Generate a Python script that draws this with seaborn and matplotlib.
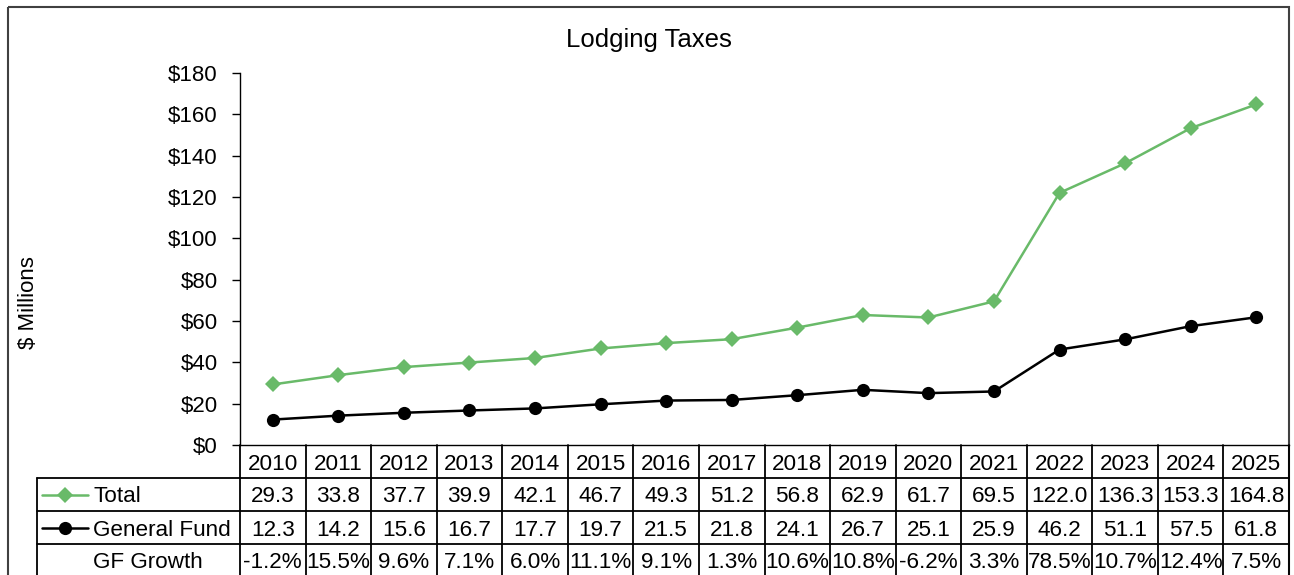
import matplotlib
matplotlib.use("Agg")
import matplotlib.pyplot as plt
import seaborn as sns
import pandas as pd
from matplotlib.lines import Line2D
from matplotlib.patches import Rectangle

years = [2010, 2011, 2012, 2013, 2014, 2015, 2016, 2017, 2018, 2019, 2020, 2021, 2022, 2023, 2024, 2025]
total = [29.3, 33.8, 37.7, 39.9, 42.1, 46.7, 49.3, 51.2, 56.8, 62.9, 61.7, 69.5, 122.0, 136.3, 153.3, 164.8]
general_fund = [12.3, 14.2, 15.6, 16.7, 17.7, 19.7, 21.5, 21.8, 24.1, 26.7, 25.1, 25.9, 46.2, 51.1, 57.5, 61.8]
gf_growth = ["-1.2%", "15.5%", "9.6%", "7.1%", "6.0%", "11.1%", "9.1%", "1.3%", "10.6%", "10.8%",
             "-6.2%", "3.3%", "78.5%", "10.7%", "12.4%", "7.5%"]
yticks = [0, 20, 40, 60, 80, 100, 120, 140, 160, 180]

GREEN = "#69BA69"
W, H = 1294, 575

sns.set_theme(style="white")
plt.rcParams["font.family"] = ["Liberation Sans", "DejaVu Sans"]

fig = plt.figure(figsize=(W / 100, H / 100), dpi=100)

# outer frame
frame = fig.add_axes([0, 0, 1, 1], zorder=0)
frame.set_xlim(0, W)
frame.set_ylim(H, 0)
frame.axis("off")
frame.add_patch(Rectangle((8, 7), 1281, 600, fill=False, edgecolor="#404040", lw=1.5, clip_on=False))

x_left, x_right = 240, 1289
y_top, y_bot = 73, 445
ax = fig.add_axes([x_left / W, (H - y_bot) / H, (x_right - x_left) / W, (y_bot - y_top) / H], zorder=2)
ax.patch.set_alpha(0)

df = pd.DataFrame({
    "idx": list(range(len(years))) * 2,
    "value": total + general_fund,
    "series": ["Total"] * len(years) + ["General Fund"] * len(years),
})
sns.lineplot(data=df, x="idx", y="value", hue="series", style="series",
             palette={"Total": GREEN, "General Fund": "black"},
             markers={"Total": "D", "General Fund": "o"}, dashes=False,
             linewidth=1.8, markersize=8, markeredgewidth=0, legend=False, ax=ax)
for l in ax.lines:
    if l.get_marker() == "o":
        l.set_markersize(9.5)

ax.set_xlim(-0.5, len(years) - 0.5)
ax.set_ylim(0, 180)
ax.set_yticks(yticks)
ax.set_yticklabels([f"${v}" for v in yticks], fontsize=16)
ax.set_xticks([])
ax.set_xlabel("")
ax.set_ylabel("")
for s in ["top", "right"]:
    ax.spines[s].set_visible(False)
for s in ["left", "bottom"]:
    ax.spines[s].set_color("black")
    ax.spines[s].set_linewidth(1.0)
ax.tick_params(axis="y", which="both", left=True, length=6, width=1, color="black", pad=10, labelcolor="black")

fig.text(649 / W, 1 - 40 / H, "Lodging Taxes", ha="center", va="center", fontsize=18.5, color="black")
fig.text(29 / W, 1 - 303 / H, "$ Millions", ha="center", va="center", rotation=90, fontsize=16, color="black")

# data table
tab = fig.add_axes([0, 0, 1, 1], zorder=3)
tab.set_xlim(0, W)
tab.set_ylim(H, 0)
tab.axis("off")
tab.patch.set_alpha(0)

cw = (x_right - x_left) / len(years)
lw = 1.3
tab.plot([37, x_right], [478, 478], color="black", lw=lw)
tab.plot([37, x_right], [511, 511], color="black", lw=lw)
tab.plot([37, x_right], [544, 544], color="black", lw=lw)
tab.plot([37, 37], [478, 580], color="black", lw=lw)
for i in range(len(years) + 1):
    xe = x_left + i * cw
    tab.plot([xe, xe], [445, 580], color="black", lw=lw)

fs = 16.2
row_y = [465, 497, 530, 563]
for i in range(len(years)):
    xc = x_left + (i + 0.5) * cw
    tab.text(xc, row_y[0], str(years[i]), ha="center", va="center", fontsize=fs, color="black")
    tab.text(xc, row_y[1], f"{total[i]:.1f}", ha="center", va="center", fontsize=fs, color="black")
    tab.text(xc, row_y[2], f"{general_fund[i]:.1f}", ha="center", va="center", fontsize=fs, color="black")
    tab.text(xc, row_y[3], gf_growth[i], ha="center", va="center", fontsize=fs, color="black")

# legend keys in table
tab.add_line(Line2D([42, 88], [495, 495], color=GREEN, lw=1.8))
tab.add_line(Line2D([65], [495], color=GREEN, marker="D", markersize=8, markeredgewidth=0))
tab.add_line(Line2D([42, 88], [528, 528], color="black", lw=1.8))
tab.add_line(Line2D([65], [528], color="black", marker="o", markersize=9.5, markeredgewidth=0))
tab.text(93, row_y[1], "Total", ha="left", va="center", fontsize=fs, color="black")
tab.text(93, row_y[2], "General Fund", ha="left", va="center", fontsize=fs, color="black")
tab.text(93, row_y[3], "GF Growth", ha="left", va="center", fontsize=fs, color="black")

fig.savefig("out.png", dpi=100)
